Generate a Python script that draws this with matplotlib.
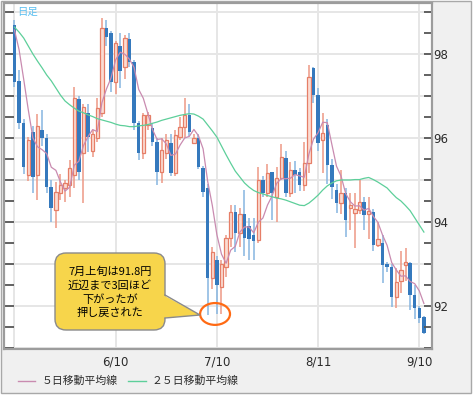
import matplotlib
matplotlib.use("Agg")
import matplotlib.pyplot as plt
from matplotlib.patches import FancyBboxPatch, Ellipse, Polygon, Rectangle
from matplotlib.lines import Line2D
from matplotlib.transforms import IdentityTransform
import numpy as np
import pandas as pd

plt.rcParams['font.family'] = ['Noto Sans CJK JP', 'DejaVu Sans']

# daily candles, 2014-05-09 .. 2014-09-11
dates = pd.bdate_range('2014-05-09', periods=90)

opens = [98.69, 97.35, 96.35, 95.12, 96.14, 95.12, 96.20, 96.00, 94.83, 94.29,
         94.69, 94.80, 94.88, 95.12, 96.93, 95.64, 96.60, 95.70, 96.00, 96.60,
         98.62, 98.50, 97.33, 98.20, 97.70, 98.36, 97.80, 96.36, 95.64, 96.31,
         96.24, 95.90, 95.19, 95.64, 95.88, 95.17, 96.02, 96.26, 96.55, 95.88,
         96.00, 95.29, 94.81, 92.67, 93.10, 92.45, 92.93, 93.62, 94.24, 93.74,
         94.19, 93.90, 93.68, 93.57, 95.00, 94.70, 95.19, 94.60, 95.05, 95.52,
         94.69, 95.24, 95.19, 94.88, 95.40, 97.67, 97.02, 95.95, 96.30, 95.36,
         94.76, 94.45, 94.70, 94.33, 94.21, 94.29, 94.48, 94.20, 94.24, 93.45,
         93.50, 93.00, 92.93, 92.21, 92.60, 92.98, 93.02, 92.26, 91.95, 91.74]

highs = [98.80, 97.62, 96.45, 96.02, 96.28, 96.58, 96.67, 96.10, 95.00, 94.95,
         95.15, 95.00, 95.48, 97.21, 97.00, 96.80, 96.80, 96.20, 96.95, 98.86,
         98.80, 98.55, 98.30, 98.50, 98.45, 98.50, 97.85, 96.40, 96.60, 96.62,
         96.36, 96.00, 96.00, 96.10, 96.10, 96.20, 96.50, 96.95, 96.80, 96.10,
         96.10, 95.33, 94.90, 93.40, 93.20, 93.10, 93.70, 94.40, 94.40, 94.33,
         94.76, 94.10, 94.10, 95.30, 95.10, 95.38, 95.20, 95.30, 95.86, 95.70,
         95.43, 95.45, 95.29, 95.90, 97.74, 97.70, 97.20, 96.60, 96.45, 95.50,
         94.90, 95.24, 94.80, 94.70, 94.70, 95.00, 94.60, 94.60, 94.30, 94.00,
         93.70, 93.05, 93.00, 92.90, 93.30, 93.38, 93.05, 92.50, 92.00, 91.76]

lows = [97.22, 96.22, 95.15, 94.98, 94.70, 94.52, 95.80, 94.68, 94.00, 93.86,
        94.52, 94.48, 94.60, 94.80, 95.00, 94.45, 95.67, 95.55, 95.90, 96.50,
        98.20, 97.10, 97.05, 97.20, 97.40, 97.70, 96.20, 95.48, 95.50, 96.20,
        95.80, 94.88, 94.93, 95.50, 95.10, 95.10, 95.95, 96.00, 96.05, 95.85,
        95.25, 94.60, 91.79, 92.40, 91.80, 91.80, 92.69, 93.40, 93.29, 93.40,
        93.20, 93.10, 93.10, 93.50, 94.60, 94.60, 94.05, 94.00, 95.00, 94.60,
        94.60, 94.70, 94.74, 94.74, 95.17, 96.83, 95.70, 95.17, 94.90, 94.55,
        94.21, 94.20, 93.64, 93.80, 93.38, 94.20, 93.80, 93.60, 93.30, 93.40,
        92.55, 92.80, 91.98, 91.95, 92.30, 92.60, 91.90, 91.70, 91.60, 91.33]

closes = [97.33, 96.35, 95.30, 95.95, 95.08, 96.28, 96.00, 94.83, 94.33, 94.71,
          94.88, 94.93, 95.29, 96.95, 95.19, 96.74, 96.02, 96.10, 96.71, 98.62,
          98.40, 97.33, 98.26, 97.60, 98.38, 97.80, 96.36, 95.64, 96.55, 96.55,
          95.90, 95.19, 95.71, 95.95, 95.17, 96.07, 96.26, 96.55, 96.14, 96.00,
          95.31, 94.71, 92.67, 93.29, 92.50, 93.00, 93.62, 94.24, 93.74, 94.20,
          93.62, 93.60, 93.55, 95.00, 94.70, 95.17, 94.69, 95.05, 95.55, 94.69,
          95.24, 95.12, 94.88, 95.40, 97.45, 97.02, 95.88, 96.12, 95.36, 94.83,
          94.45, 94.69, 94.05, 94.40, 94.31, 94.48, 94.17, 94.26, 93.45, 93.60,
          92.98, 92.93, 92.21, 92.57, 92.86, 93.02, 92.26, 91.95, 91.71, 91.36]

# 25-day MA as drawn (needs data before the window)
ma25 = [98.64, 98.52, 98.38, 98.19, 98.00, 97.83, 97.67, 97.50, 97.36, 97.19,
        97.02, 96.88, 96.79, 96.71, 96.64, 96.60, 96.55, 96.51, 96.46, 96.43,
        96.40, 96.37, 96.33, 96.30, 96.29, 96.27, 96.27, 96.29, 96.30, 96.32,
        96.35, 96.38, 96.42, 96.45, 96.48, 96.51, 96.54, 96.56, 96.58, 96.57,
        96.52, 96.45, 96.31, 96.17, 96.02, 95.81, 95.60, 95.40, 95.21, 95.07,
        94.93, 94.83, 94.75, 94.70, 94.67, 94.63, 94.60, 94.57, 94.55, 94.52,
        94.48, 94.44, 94.40, 94.39, 94.45, 94.54, 94.64, 94.76, 94.86, 94.93,
        94.98, 95.00, 95.00, 95.00, 95.01, 95.01, 95.04, 95.06, 95.01, 94.95,
        94.88, 94.81, 94.69, 94.58, 94.50, 94.39, 94.27, 94.10, 93.93, 93.76]
# first four 5-day MA points
ma5_head = [98.57, 98.10, 97.40, 96.67]

tick_dates = ['2014-06-10', '2014-07-10', '2014-08-11', '2014-09-10']
note_lines = ['7月上旬は91.8円', '近辺まで3回ほど', '下がったが', '押し戻された']
legend_labels = ['５日移動平均線', '２５日移動平均線']

BLUE_BODY = '#3579bd'
BLUE_WICK = '#86b5e0'
UP_EDGE = '#e67e67'
UP_FILL = '#fbdcd3'
UP_WICK = '#ee9985'
MA5_C = '#c98bb0'
MA25_C = '#5dcf9a'
GRID_C = '#e6e6e6'
SPINE_C = '#9c9c9c'
TXT = '#2b2b2b'

W, H = 476, 397
fig = plt.figure(figsize=(W / 100, H / 100), dpi=100)
fig.patch.set_facecolor('white')
# grey frame behind the plot
fig.patches.append(Rectangle((1 / W, 4 / H), 470 / W, 392 / H, transform=fig.transFigure,
                             facecolor='#f0f0f0', edgecolor='#a8a8a8', lw=1, zorder=-1))

ax = fig.add_axes([4 / W, 48 / H, 428 / W, 346 / H])
ax.set_facecolor('white')

x = np.arange(len(closes))
o = np.array(opens)
c = np.array(closes)
hi = np.array(highs)
lo = np.array(lows)
up = c >= o

ax.vlines(x[up], lo[up], hi[up], color=UP_WICK, lw=1.1, zorder=2)
ax.vlines(x[~up], lo[~up], hi[~up], color=BLUE_WICK, lw=1.1, zorder=2)
body_lo = np.minimum(o, c)
body_h = np.maximum(np.abs(c - o), 0.06)
ax.bar(x[up], body_h[up], bottom=body_lo[up], width=0.7, facecolor=UP_FILL,
       edgecolor=UP_EDGE, lw=0.9, zorder=3)
ax.bar(x[~up], body_h[~up], bottom=body_lo[~up], width=0.78, color=BLUE_BODY,
       lw=0, zorder=3)

ma5 = pd.Series(closes).rolling(5).mean().to_numpy()
ma5[:4] = ma5_head
ax.plot(x, ma5, color=MA5_C, lw=0.9, zorder=4)
ax.plot(x, ma25, color=MA25_C, lw=0.9, zorder=4)

# grid
for v in np.arange(91, 100):
    ax.axhline(v, color=GRID_C, lw=1.4, zorder=1)
tick_idx = [dates.get_loc(pd.Timestamp(d)) for d in tick_dates]
for i in [0] + tick_idx:
    ax.axvline(i, color=GRID_C, lw=1.4, zorder=1)

ax.set_xlim(-2.28, 90.76)
ax.set_ylim(90.976, 99.214)

ax.set_xticks(tick_idx)
ax.set_xticklabels([f"{pd.Timestamp(d).month}/{pd.Timestamp(d).day}" for d in tick_dates],
                   family='DejaVu Sans', fontsize=8.5, color=TXT)
ax.tick_params(axis='x', length=0, pad=5)

yt = np.arange(91, 99.01, 0.5)
ax.set_yticks(yt)
ax.tick_params(axis='y', direction='in', length=7.5, width=1.3, color='#555555',
               left=True, right=False, labelleft=False)
ax2 = ax.twinx()
ax2.set_ylim(ax.get_ylim())
ax2.set_yticks(yt)
ax2.set_yticklabels([f"{v:.0f}" if v % 2 == 0 else "" for v in yt],
                    family='DejaVu Sans', fontsize=8.5, color=TXT)
ax2.tick_params(axis='y', direction='in', length=6, width=1.3, color='#555555', pad=1)

for a in (ax, ax2):
    for s in a.spines.values():
        s.set_color(SPINE_C)
        s.set_linewidth(1.5)

ax.text(0.03, 0.988, '日足', transform=ax.transAxes, ha='left', va='top',
        fontsize=7.5, color='#5bbff0', zorder=6)

# orange ring round the three lows
ax.add_patch(Ellipse((43.6, 91.81), width=6.5, height=0.52, fill=False,
                     edgecolor='#ff6a13', lw=1.6, zorder=6, clip_on=False))

# callout (pixel coordinates of the image, y from top)
def P(px, py):
    return (px, H - py)

ident = IdentityTransform()
YEL = '#f7d54b'
box = FancyBboxPatch(P(55, 330), 110, 77, boxstyle='round,pad=0,rounding_size=11',
                     transform=ident, facecolor=YEL, edgecolor='#8a8a8a', lw=1, zorder=5)
fig.add_artist(box)
tail = Polygon([P(163, 295), P(200, 315), P(163, 318)], closed=True, transform=ident,
               facecolor=YEL, edgecolor='none', zorder=6)
fig.add_artist(tail)
fig.add_artist(Line2D([165, 200, 165], [H - 295, H - 315, H - 318], transform=ident,
                      color='#8a8a8a', lw=1, zorder=7))
for k, s in enumerate(note_lines):
    fig.text(*P(110, 272 + 13.7 * k), s, transform=ident, ha='center', va='center',
             fontsize=8, color='black', zorder=8)

# legend
fig.add_artist(Line2D([18, 35], [H - 381, H - 381], transform=ident, color=MA5_C, lw=1))
fig.text(*P(42, 381), legend_labels[0], transform=ident, ha='left', va='center',
         fontsize=7.8, color=TXT)
fig.add_artist(Line2D([128, 146], [H - 381, H - 381], transform=ident, color=MA25_C, lw=1))
fig.text(*P(152, 381), legend_labels[1], transform=ident, ha='left', va='center',
         fontsize=7.8, color=TXT)

fig.savefig('out.png', dpi=100)
plt.close(fig)
